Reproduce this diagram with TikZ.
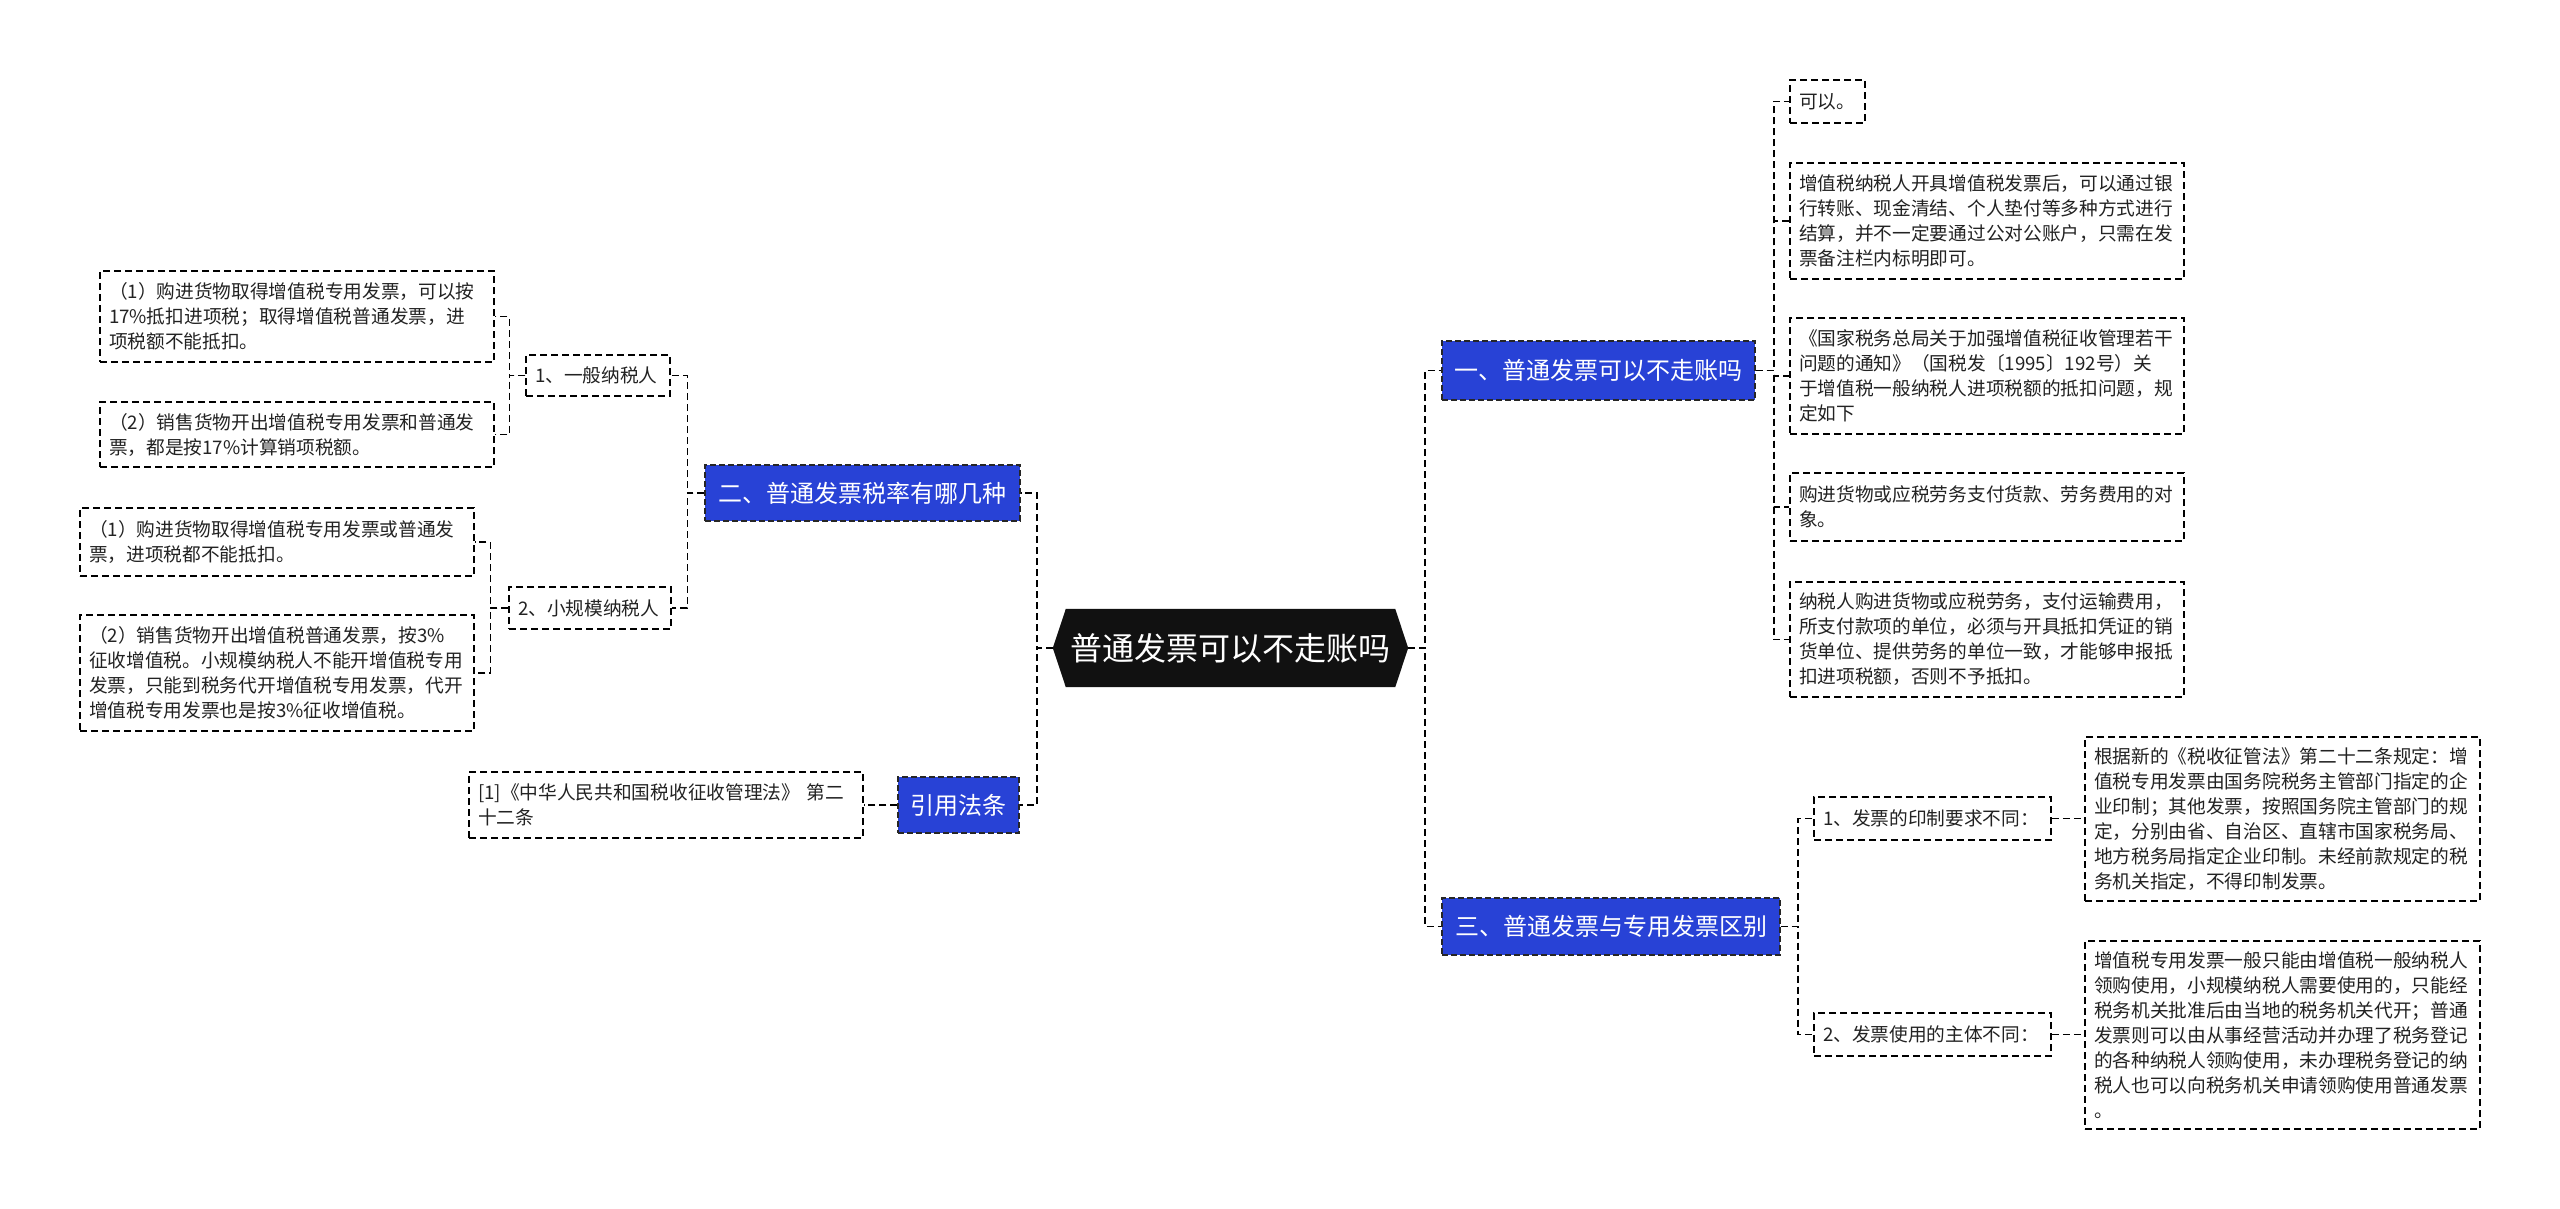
\documentclass[tikz,border=0pt]{standalone}
\usepackage{fontspec}
\setmainfont{Noto Sans CJK SC}
\usetikzlibrary{backgrounds}
\definecolor{bluefill}{RGB}{40,66,214}
\definecolor{txt}{RGB}{34,34,34}
\definecolor{rootfill}{RGB}{17,17,17}
\tikzset{
  conn/.style={draw=black, line width=1.5pt, dash pattern=on 7pt off 4pt},
  leaf/.style={draw=black, line width=1.5pt, dash pattern=on 7pt off 4pt, fill=white,
    text=txt, align=left, inner xsep=9pt, inner ysep=0pt,
    font=\fontsize{18.7}{25}\selectfont},
  branch/.style={draw=black!85, line width=1.5pt, dash pattern=on 6pt off 3pt, fill=bluefill,
    text=white, inner sep=0pt, font=\fontsize{24}{28}\selectfont},
  wh/.style n args={3}{minimum width=#1pt, text width=#2pt, minimum height=#3pt},
}
\begin{document}
\begin{tikzpicture}[x=1pt,y=-1pt]
\useasboundingbox (0,0) rectangle (2560,1209);
\begin{scope}[on background layer]
\fill[white] (0,0) rectangle (2560,1209);
\end{scope}

% root
\node[inner sep=0pt, minimum width=355pt, minimum height=78pt, text=white,
      font=\fontsize{32}{38}\selectfont] (root) at (1230.5,648) {普通发票可以不走账吗};
\begin{scope}[on background layer]
\fill[rootfill] (root.west) -- ([xshift=13pt]root.north west) -- ([xshift=-13pt]root.north east)
  -- (root.east) -- ([xshift=-13pt]root.south east) -- ([xshift=13pt]root.south west) -- cycle;
\end{scope}

% main branches
\node[branch, minimum width=313pt, minimum height=59pt] (N1) at (1598.5,370.5) {一、普通发票可以不走账吗};
\node[branch, minimum width=338pt, minimum height=57pt] (N3) at (1611,926.5) {三、普通发票与专用发票区别};
\node[branch, minimum width=315pt, minimum height=56pt] (N2) at (862.5,493) {二、普通发票税率有哪几种};
\node[branch, minimum width=121pt, minimum height=56pt] (N4) at (958.5,805) {引用法条};

% left side
\node[leaf, wh={144}{126}{41}] (L1) at (598,375.5) {1、一般纳税人};
\node[leaf, wh={394}{376}{91}] (L1a) at (297,316.5) {（1）购进货物取得增值税专用发票，可以按\\17\%抵扣进项税；取得增值税普通发票，进\\项税额不能抵扣。};
\node[leaf, wh={394}{376}{65}] (L1b) at (297,434.5) {（2）销售货物开出增值税专用发票和普通发\\票，都是按17\%计算销项税额。};
\node[leaf, wh={162}{144}{42}] (L2) at (590,608) {2、小规模纳税人};
\node[leaf, wh={394}{376}{68}] (L2a) at (277,542) {（1）购进货物取得增值税专用发票或普通发\\票，进项税都不能抵扣。};
\node[leaf, wh={394}{376}{116}] (L2b) at (277,673) {（2）销售货物开出增值税普通发票，按3\%\\征收增值税。小规模纳税人不能开增值税专用\\发票，只能到税务代开增值税专用发票，代开\\增值税专用发票也是按3\%征收增值税。};
\node[leaf, wh={394}{376}{66}] (Cite) at (666,805) {[1]《中华人民共和国税收征收管理法》 第二\\十二条};

% right side, branch 1
\node[leaf, wh={75}{57}{43}] (C1) at (1827.5,101.5) {可以。};
\node[leaf, wh={394}{376}{116}] (C2) at (1987,221) {增值税纳税人开具增值税发票后，可以通过银\\行转账、现金清结、个人垫付等多种方式进行\\结算，并不一定要通过公对公账户，只需在发\\票备注栏内标明即可。};
\node[leaf, wh={394}{376}{116}] (C3) at (1987,376) {《国家税务总局关于加强增值税征收管理若干\\问题的通知》（国税发〔1995〕192号）关\\于增值税一般纳税人进项税额的抵扣问题，规\\定如下};
\node[leaf, wh={394}{376}{68}] (C4) at (1987,507) {购进货物或应税劳务支付货款、劳务费用的对\\象。};
\node[leaf, wh={394}{376}{115}] (C5) at (1987,639.5) {纳税人购进货物或应税劳务，支付运输费用，\\所支付款项的单位，必须与开具抵扣凭证的销\\货单位、提供劳务的单位一致，才能够申报抵\\扣进项税额，否则不予抵扣。};

% right side, branch 3
\node[leaf, wh={237}{219}{43}] (D1) at (1932.5,818.5) {1、发票的印制要求不同：};
\node[leaf, wh={237}{219}{43}] (D2) at (1932.5,1034.5) {2、发票使用的主体不同：};
\node[leaf, wh={395}{377}{164}] (D1a) at (2282.5,819) {根据新的《税收征管法》第二十二条规定：增\\值税专用发票由国务院税务主管部门指定的企\\业印制；其他发票，按照国务院主管部门的规\\定，分别由省、自治区、直辖市国家税务局、\\地方税务局指定企业印制。未经前款规定的税\\务机关指定，不得印制发票。};
\node[leaf, wh={395}{377}{188}] (D2a) at (2282.5,1035) {增值税专用发票一般只能由增值税一般纳税人\\领购使用，小规模纳税人需要使用的，只能经\\税务机关批准后由当地的税务机关代开；普通\\发票则可以由从事经营活动并办理了税务登记\\的各种纳税人领购使用，未办理税务登记的纳\\税人也可以向税务机关申请领购使用普通发票\\。};

% connectors
\foreach \c in {N1,N3} \draw[conn] (root.east) -- ++(17,0) |- (\c.west);
\foreach \c in {N2,N4} \draw[conn] (root.west) -- ++(-16,0) |- (\c.east);
\foreach \c in {C1,C2,C3,C4,C5} \draw[conn] (N1.east) -- ++(18,0) |- (\c.west);
\foreach \c in {D1,D2} \draw[conn] (N3.east) -- ++(17,0) |- (\c.west);
\draw[conn] (D1.east) -- (D1.east -| D1a.west);
\draw[conn] (D2.east) -- (D2.east -| D2a.west);
\foreach \c in {L1,L2} \draw[conn] (N2.west) -- ++(-17,0) |- (\c.east);
\foreach \c in {L1a,L1b} \draw[conn] (L1.west) -- ++(-16,0) |- (\c.east);
\foreach \c in {L2a,L2b} \draw[conn] (L2.west) -- ++(-18,0) |- (\c.east);
\draw[conn] (N4.west) -- (N4.west -| Cite.east);
\end{tikzpicture}
\end{document}
